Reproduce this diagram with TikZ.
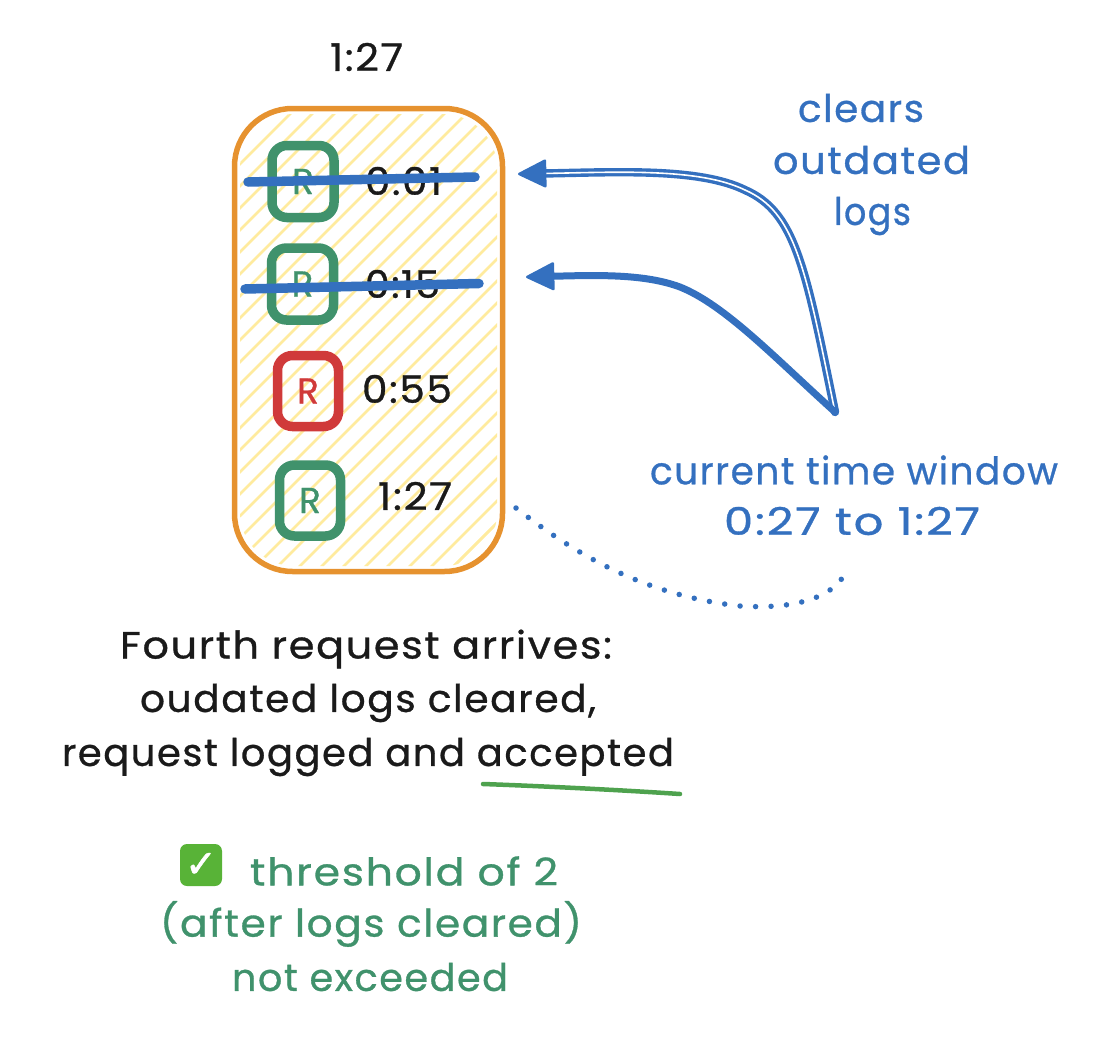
\documentclass[tikz,border=0pt]{standalone}
\usepackage{fontspec}
\usepackage{graphicx}
\usetikzlibrary{arrows.meta}
\newfontfamily\hand[LetterSpace=4,FakeBold=0.8]{Poppins}
\newfontfamily\symfont[FakeBold=1.5]{DejaVu Sans}
\newcommand{\fitw}[2]{\resizebox{#1pt}{\height}{#2}}
\definecolor{cblue}{HTML}{3470BF}
\definecolor{cgreen}{HTML}{40926C}
\definecolor{cred}{HTML}{D03A3A}
\definecolor{corange}{HTML}{E6922F}
\definecolor{chatch}{HTML}{FFEB9E}
\definecolor{cink}{HTML}{1A1A1A}
\definecolor{cunder}{HTML}{4EA24E}
\definecolor{cemoji}{HTML}{58B337}
\tikzset{
  lbl/.style={font=\hand\fontsize{38}{40}\selectfont,inner sep=0pt,text=cink,anchor=center},
  bluelbl/.style={lbl,text=cblue},
  greenlbl/.style={lbl,text=cgreen},
  rbox/.style={draw=#1,line width=9.5pt,rounded corners=15pt,inner sep=0pt,text=#1,
     font=\hand\fontsize{36}{38}\selectfont,anchor=center},
  strike/.style={draw=cblue,line width=9.5pt,line cap=round},
  arrowline/.style={draw=cblue,line join=round,line cap=round,
     -{Triangle[length=30pt,width=29pt,line width=2.5pt,round]}},
}
\begin{document}
\begin{tikzpicture}[x=1pt,y=-1pt]
\useasboundingbox (0,0) rectangle (1112,1044);
% hatching
\begin{scope}
\clip[rounded corners=54pt] (240,114) rectangle (497,566);
\foreach \k in {0,...,30}{
  \draw[chatch,line width=2.8pt] (-240+\k*22,600) -- ++(520,-520);
  \draw[chatch,line width=2.8pt] (-240+\k*22+660,600) -- ++(520,-520);
}
\end{scope}
\node[draw=corange,line width=5.5pt,rounded corners=58pt,minimum width=268pt,minimum height=463pt,inner sep=0pt,anchor=center] (frame) at (368.5,340) {};
\node[lbl] (title) at (366.5,57) {\fitw{73}{1:27}};
\node[rbox=cgreen,minimum width=62pt,minimum height=72pt] (r1) at (303,181.5) {R};
\node[rbox=cgreen,minimum width=62pt,minimum height=72pt] (r2) at (302.5,284) {R};
\node[rbox=cred,minimum width=61pt,minimum height=71pt] (r3) at (308,391) {R};
\node[rbox=cgreen,minimum width=61pt,minimum height=71pt] (r4) at (310,500.5) {R};
\node[lbl] (t1) at (403.5,181) {\fitw{77}{0:01}};
\node[lbl] (t2) at (402.5,284) {\fitw{75}{0:15}};
\node[lbl] (t3) at (407,389) {\fitw{90}{0:55}};
\node[lbl] (t4) at (415,496) {\fitw{74}{1:27}};
% strikes
\coordinate (s1a) at (248,182); \coordinate (s1b) at (475,177);
\coordinate (s2a) at (245,289); \coordinate (s2b) at (479,283.5);
\draw[strike] (s1a) -- (s1b);
\draw[strike] (s2a) -- (s2b);
% labels right
\node[bluelbl] (c1) at (861,108) {\fitw{126}{clears}};
\node[bluelbl] (c2) at (871.5,160) {\fitw{197}{outdated}};
\node[bluelbl] (c3) at (872.5,216) {\fitw{77}{logs}};
\node[bluelbl] (w1) at (854,470) {\fitw{408}{current time window}};
\node[bluelbl] (w2) at (852,521) {\fitw{256}{0:27 to 1:27}};
% arrows
\coordinate (src) at (835,412);
\coordinate (a1) at (518,174);
\coordinate (a2) at (526,277);
\draw[arrowline,line width=3.4pt,double=white,double distance=1.6pt]
  (src) .. controls (805,265) and (795,212) .. (745,190) .. controls (700,168) and (620,172) .. (a1);
\draw[arrowline,line width=7pt]
  (src) .. controls (775,358) and (725,305) .. (680,287) .. controls (645,274) and (600,275) .. (a2);
% dotted
\coordinate (d1) at (516,508);
\coordinate (d2) at (848,566);
\draw[cblue,line width=5.5pt,line cap=round,dash pattern=on 0pt off 15.5pt]
  (d1) .. controls (570,550) and (640,595) .. (740,606) .. controls (800,610) and (840,595) .. (d2);
% bottom text
\node[lbl] (b1) at (366,649) {\fitw{492}{Fourth request arrives:}};
\node[lbl] (b2) at (368,703) {\fitw{456}{oudated logs cleared,}};
\node[lbl] (b3) at (368,757) {\fitw{612}{request logged and accepted}};
\coordinate (u1) at (483,784); \coordinate (u2) at (680,794);
\draw[cunder,line width=4.5pt,line cap=round] (u1) .. controls (540,786) and (620,790) .. (u2);
\node[fill=cemoji,rounded corners=7pt,minimum size=42pt,inner sep=0pt,text=white,font=\symfont\fontsize{38}{38}\selectfont] (em) at (201,865) {✓};
\node[greenlbl] (g1) at (404,871) {\fitw{308}{threshold of 2}};
\node[greenlbl] (g2) at (371,924) {\fitw{422}{(after logs cleared)}};
\node[greenlbl] (g3) at (370,977) {\fitw{276}{not exceeded}};
\end{tikzpicture}
\end{document}
